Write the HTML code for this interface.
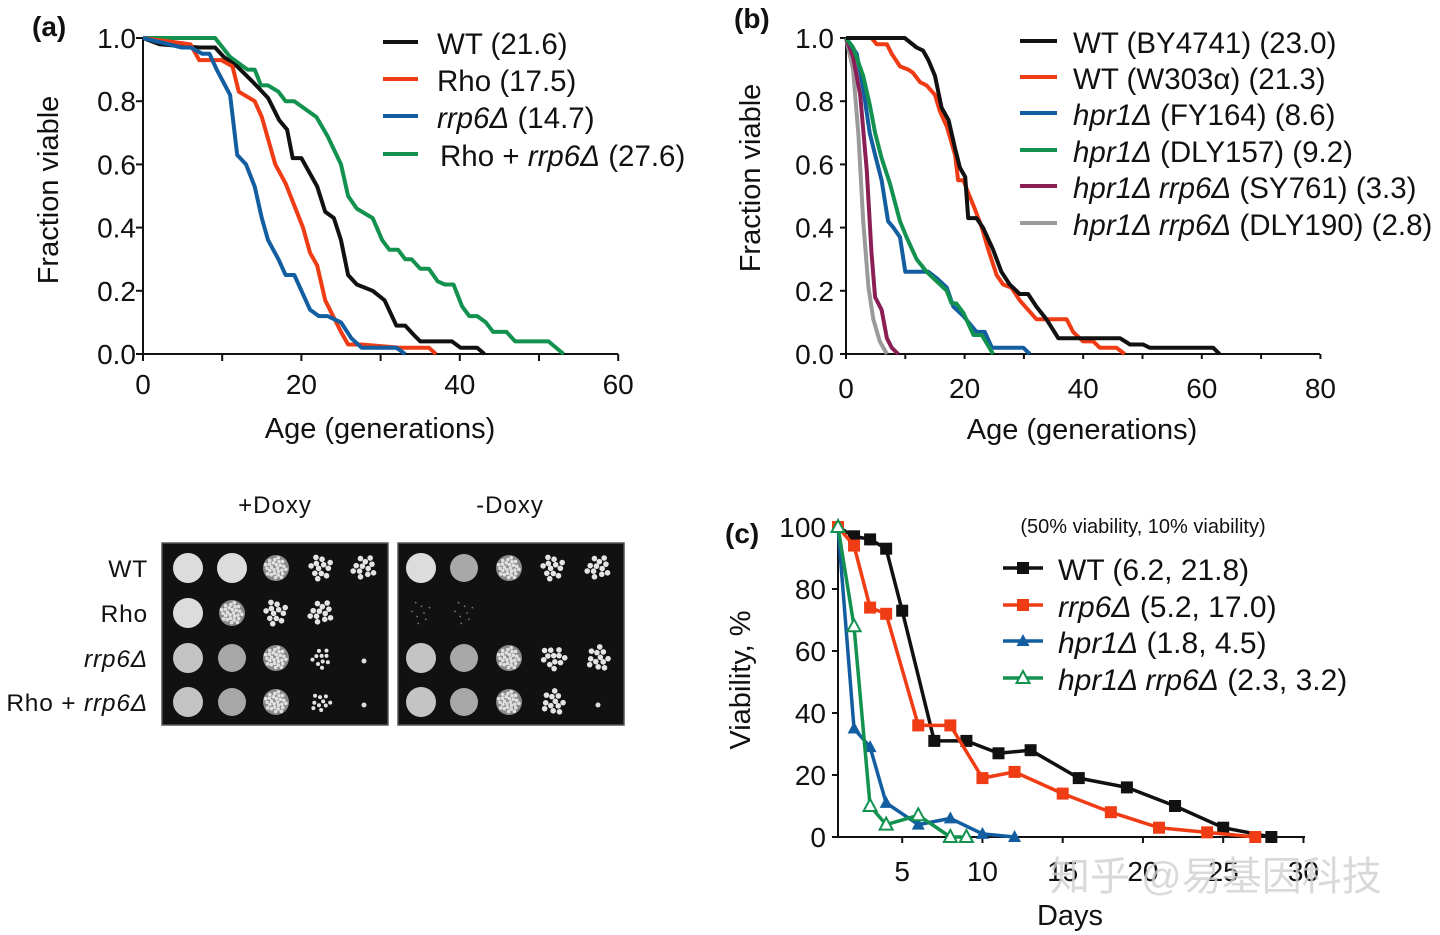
<!DOCTYPE html>
<html><head><meta charset="utf-8">
<style>
html,body{margin:0;padding:0;background:#fff;}
svg{display:block;font-family:"Liberation Sans","Noto Sans CJK SC",sans-serif;}
</style></head>
<body>
<svg id="fig" width="1440" height="935" viewBox="0 0 1440 935" xmlns="http://www.w3.org/2000/svg">
<g id="pa"></g>
<g id="pb"></g>
<g id="pc"></g>
<g id="plates"></g>
<text x="1050" y="890" font-size="40" fill="#d0d0d0" fill-opacity="0.8">知乎 @易基因科技</text>
</svg>
<script>
// ---------- Panel (a) data ----------
const aWTx=[0,2.1,7.1,9.1,10.2,11.9,13.9,15.8,17.2,18.2,18.9,20.0,22.0,23.0,24.1,25.0,25.9,27.0,29.0,30.5,32.0,33.1,34.2,35.0,39.0,40.1,42.2,43.1];
const aWTy=[1,0.98,0.97,0.97,0.94,0.91,0.86,0.81,0.74,0.71,0.62,0.62,0.53,0.45,0.43,0.36,0.25,0.22,0.20,0.17,0.09,0.09,0.06,0.04,0.04,0.02,0.02,0];
const aRhox=[0,6.0,7.1,9.9,11.3,12.1,14.1,15.0,15.8,16.7,18.0,19.1,20.2,21.1,22.0,23.0,25.0,25.9,27.6,32.4,36.1,37.0];
const aRhoy=[1,0.98,0.93,0.93,0.91,0.83,0.80,0.75,0.68,0.60,0.54,0.47,0.40,0.32,0.28,0.17,0.07,0.03,0.03,0.02,0.02,0];
const aRrpx=[0,4.9,6.0,7.5,8.4,9.3,11.0,11.9,13.0,14.1,15.0,15.8,17.1,18.0,19.1,21.1,22.2,23.3,25.0,26.3,27.6,32.0,33.1];
const aRrpy=[1,0.97,0.97,0.95,0.95,0.90,0.82,0.63,0.60,0.53,0.43,0.36,0.30,0.25,0.25,0.14,0.12,0.12,0.10,0.05,0.02,0.02,0];
const aRRx=[0,9.1,11.0,13.2,14.1,14.9,15.8,17.1,18.0,19.1,21.9,23.3,25.0,25.9,27.0,29.0,30.2,31.1,32.2,33.1,33.9,35.0,36.1,37.2,38.1,39.2,40.3,41.2,42.2,43.3,44.2,45.9,47.0,51.2,53.1];
const aRRy=[1,1,0.94,0.90,0.90,0.85,0.85,0.83,0.80,0.80,0.75,0.69,0.60,0.50,0.46,0.43,0.36,0.33,0.33,0.30,0.30,0.27,0.27,0.23,0.22,0.22,0.15,0.12,0.12,0.10,0.07,0.07,0.04,0.04,0];
const aXTicks=[0,20,40,60];
const aYTicks=[0,0.2,0.4,0.6,0.8,1.0];

// ---------- Panel (b) data ----------
const bBYx=[0,9.9,11.9,13.0,13.9,15.0,16.1,17.3,18.4,19.2,20.1,20.6,22.0,23.1,24.8,26.2,27.6,29.3,30.7,32.1,33.8,35.8,46.2,47.9,50.1,51.2,61.9,63.0];
const bBYy=[1,1,0.97,0.96,0.93,0.88,0.78,0.74,0.65,0.59,0.56,0.43,0.43,0.40,0.33,0.26,0.22,0.19,0.19,0.15,0.11,0.05,0.05,0.03,0.03,0.02,0.02,0];
const bW3x=[0,4.3,5.2,6.9,7.7,9.1,10.5,11.3,12.5,13.6,15.0,15.8,17.0,18.4,18.9,19.8,20.6,21.7,22.9,24.0,25.4,26.5,27.9,29.3,30.7,32.1,35.5,37.2,38.3,40.0,41.7,42.8,45.6,47.0];
const bW3y=[1,1,0.98,0.98,0.95,0.91,0.90,0.89,0.86,0.85,0.82,0.77,0.72,0.63,0.55,0.55,0.51,0.46,0.40,0.33,0.25,0.22,0.21,0.17,0.14,0.11,0.11,0.11,0.07,0.04,0.04,0.02,0.02,0];
const bFYx=[0,1.8,2.9,4.0,4.9,6.0,7.1,8.0,9.1,10.0,13.9,15.3,17.0,18.1,19.8,22.0,23.4,24.6,29.9,31.0];
const bFYy=[1,0.95,0.84,0.70,0.63,0.55,0.42,0.40,0.37,0.26,0.26,0.24,0.21,0.15,0.12,0.07,0.07,0.02,0.02,0];
const bD157x=[0,1.2,2.9,4.0,4.9,6.0,7.4,9.1,10.2,11.9,13.6,15.3,17.0,17.8,18.6,19.8,21.5,22.9,24.8];
const bD157y=[1,0.97,0.88,0.79,0.70,0.62,0.54,0.42,0.37,0.30,0.26,0.23,0.20,0.16,0.16,0.13,0.06,0.06,0];
const bSYx=[0,1.2,2.4,3.5,4.3,4.9,6.0,6.9,7.7,8.8];
const bSYy=[1,0.94,0.82,0.58,0.32,0.18,0.14,0.05,0.02,0];
const bD190x=[0,1.2,2.1,2.9,3.8,4.6,5.7,6.9];
const bD190y=[1,0.90,0.69,0.42,0.21,0.11,0.04,0];
const bXTicks=[0,20,40,60,80];
const bYTicks=[0,0.2,0.4,0.6,0.8,1.0];

// ---------- Panel (c) data ----------
const cWTd=[1,2,3,4,5,7,9,11,13,16,19,22,25,28];
const cWTv=[100,97,96,93,73,31,31,27,28,19,16,10,3,0];
const cRrpd=[1,2,3,4,6,8,10,12,15,18,21,24,27];
const cRrpv=[100,94,74,72,36,36,19,21,14,8,3,1.5,0];
const cHprd=[1,2,3,4,6,8,10,12];
const cHprv=[100,35,29,11,4,6,1,0];
const cDbld=[1,2,3,4,6,8,9];
const cDblv=[100,68,10,4,7,0,0];
const cXTicks=[5,10,15,20,25,30];
const cYTicks=[0,20,40,60,80,100];

const NS="http://www.w3.org/2000/svg";
const TF=28, LF=29.5, AF=29;
function mk(parent,tag,attrs,text){const e=document.createElementNS(NS,tag);for(const k in attrs)e.setAttribute(k,attrs[k]);if(text!==undefined)e.textContent=text;parent.appendChild(e);return e;}
function poly(g,xs,ys,sx,sy,color,name){
  const p=xs.map((x,i)=>sx(x).toFixed(1)+","+sy(ys[i]).toFixed(1)).join(" ");
  const e=mk(g,"polyline",{points:p,fill:"none",stroke:color,"stroke-width":4,"stroke-linejoin":"round"});
  
  
  return e;
}
function richLabel(g,x,y,size,parts,name){
  const t=mk(g,"text",{x:x,y:y,"font-size":size,fill:"#111"});
  parts.forEach(p=>{mk(t,"tspan",p[1]?{"font-style":"italic"}:{},p[0]);});
  
  
  return t;
}

// ----- Panel a -----
(function(){
  const g=document.getElementById("pa");
  const sx=v=>143+v*7.92, sy=v=>354-v*316;
  mk(g,"line",{x1:143,y1:354,x2:618,y2:354,stroke:"#111","stroke-width":2});
  mk(g,"line",{x1:143,y1:38,x2:143,y2:354,stroke:"#111","stroke-width":2});
  for(let v=0;v<=60;v+=10)mk(g,"line",{x1:sx(v),y1:354,x2:sx(v),y2:361,stroke:"#111","stroke-width":2});
  aXTicks.forEach(v=>{const t=mk(g,"text",{x:sx(v),y:394,"font-size":TF,"text-anchor":"middle",fill:"#111"},String(v));
    
    });
  aYTicks.forEach(v=>{mk(g,"line",{x1:136,y1:sy(v),x2:143,y2:sy(v),stroke:"#111","stroke-width":2});
    const t=mk(g,"text",{x:136,y:sy(v)+10,"font-size":TF,"text-anchor":"end",fill:"#111"},v.toFixed(1));
    
    });
  const yt=mk(g,"text",{x:0,y:0,"font-size":AF,"text-anchor":"middle",transform:"translate(58,190) rotate(-90)",fill:"#111"},"Fraction viable");
  
  
  const xt=mk(g,"text",{x:380,y:438,"font-size":AF,"text-anchor":"middle",fill:"#111"},"Age (generations)");
  
  
  const pl=mk(g,"text",{x:32,y:36,"font-size":28,"font-weight":"bold",fill:"#111"},"(a)");
  
  
  poly(g,aRRx,aRRy,sx,sy,"#13924f","series-rho-rrp6");
  poly(g,aWTx,aWTy,sx,sy,"#111","series-wt");
  poly(g,aRhox,aRhoy,sx,sy,"#f03c14","series-rho");
  poly(g,aRrpx,aRrpy,sx,sy,"#125ea0","series-rrp6");
  const cols=["#111","#f03c14","#125ea0","#13924f"], ys=[44,81,118,156];
  const parts=[[["WT (21.6)"]],[["Rho (17.5)"]],[["rrp6Δ",1],[" (14.7)"]],[["Rho + "],["rrp6Δ",1],[" (27.6)"]]];
  ys.forEach((y,i)=>{const l=mk(g,"line",{x1:383,y1:y-2,x2:418,y2:y-2,stroke:cols[i],"stroke-width":4});
    
    
    richLabel(g,i==3?440:437,y+10,LF,parts[i],"legend-entry");});
})();

// ----- Panel b -----
(function(){
  const g=document.getElementById("pb");
  const sx=v=>846+v*5.93, sy=v=>354-v*316;
  mk(g,"line",{x1:846,y1:354,x2:1320,y2:354,stroke:"#111","stroke-width":2});
  mk(g,"line",{x1:846,y1:38,x2:846,y2:354,stroke:"#111","stroke-width":2});
  for(let v=0;v<=80;v+=10)mk(g,"line",{x1:sx(v),y1:354,x2:sx(v),y2:359,stroke:"#111","stroke-width":2});
  bXTicks.forEach(v=>{const t=mk(g,"text",{x:sx(v),y:398,"font-size":TF,"text-anchor":"middle",fill:"#111"},String(v));
    
    });
  bYTicks.forEach(v=>{mk(g,"line",{x1:840,y1:sy(v),x2:846,y2:sy(v),stroke:"#111","stroke-width":2});
    const t=mk(g,"text",{x:834,y:sy(v)+10,"font-size":TF,"text-anchor":"end",fill:"#111"},v.toFixed(1));
    
    });
  const yt=mk(g,"text",{x:0,y:0,"font-size":AF,"text-anchor":"middle",transform:"translate(760,178) rotate(-90)",fill:"#111"},"Fraction viable");
  
  
  const xt=mk(g,"text",{x:1082,y:439,"font-size":AF,"text-anchor":"middle",fill:"#111"},"Age (generations)");
  
  
  const pl=mk(g,"text",{x:734,y:28,"font-size":28,"font-weight":"bold",fill:"#111"},"(b)");
  
  
  poly(g,bD190x,bD190y,sx,sy,"#9a9a9a","series-dly190");
  poly(g,bSYx,bSYy,sx,sy,"#8b1f55","series-sy761");
  poly(g,bFYx,bFYy,sx,sy,"#125ea0","series-fy164");
  poly(g,bD157x,bD157y,sx,sy,"#13924f","series-dly157");
  poly(g,bW3x,bW3y,sx,sy,"#f03c14","series-w303");
  poly(g,bBYx,bBYy,sx,sy,"#111","series-by4741");
  const cols=["#111","#f03c14","#125ea0","#13924f","#8b1f55","#9a9a9a"], ys=[43,79,115,152,188,225];
  const parts=[[["WT (BY4741) (23.0)"]],[["WT (W303α) (21.3)"]],[["hpr1Δ",1],[" (FY164) (8.6)"]],[["hpr1Δ",1],[" (DLY157) (9.2)"]],[["hpr1Δ rrp6Δ",1],[" (SY761) (3.3)"]],[["hpr1Δ rrp6Δ",1],[" (DLY190) (2.8)"]]];
  ys.forEach((y,i)=>{const l=mk(g,"line",{x1:1020,y1:y-2,x2:1057,y2:y-2,stroke:cols[i],"stroke-width":4});
    
    
    richLabel(g,1073,y+10,LF,parts[i],"legend-entry");});
})();

// ----- Panel c -----
(function(){
  const g=document.getElementById("pc");
  const sx=d=>838+(d-1)*16.05, sy=v=>837-v*3.1;
  mk(g,"line",{x1:838,y1:837,x2:1305,y2:837,stroke:"#111","stroke-width":2});
  mk(g,"line",{x1:838,y1:527,x2:838,y2:837,stroke:"#111","stroke-width":2});
  for(let d=5;d<=30;d+=5)mk(g,"line",{x1:sx(d),y1:837,x2:sx(d),y2:843,stroke:"#111","stroke-width":2});
  cXTicks.forEach(v=>{const t=mk(g,"text",{x:sx(v),y:881,"font-size":TF,"text-anchor":"middle",fill:"#111"},String(v));
    
    });
  cYTicks.forEach(v=>{mk(g,"line",{x1:832,y1:sy(v),x2:838,y2:sy(v),stroke:"#111","stroke-width":2});
    const t=mk(g,"text",{x:826,y:sy(v)+10,"font-size":TF,"text-anchor":"end",fill:"#111"},String(v));
    
    });
  const yt=mk(g,"text",{x:0,y:0,"font-size":AF,"text-anchor":"middle",transform:"translate(750,680) rotate(-90)",fill:"#111"},"Viability, %");
  
  
  const xt=mk(g,"text",{x:1070,y:925,"font-size":AF,"text-anchor":"middle",fill:"#111"},"Days");
  
  
  const pl=mk(g,"text",{x:725,y:543,"font-size":28,"font-weight":"bold",fill:"#111"},"(c)");
  
  
  function marker(x,y,type,color){
    let e;
    if(type=="sq") e=mk(g,"rect",{x:x-6,y:y-6,width:12,height:12,fill:color});
    else if(type=="tri") e=mk(g,"polygon",{points:`${x},${y-7} ${x-6.5},${y+5} ${x+6.5},${y+5}`,fill:color});
    else e=mk(g,"polygon",{points:`${x},${y-7} ${x-6.5},${y+5} ${x+6.5},${y+5}`,fill:"#fff",stroke:color,"stroke-width":2});
    return e;
  }
  function series(ds,vs,color,type,name){
    const p=ds.map((d,i)=>sx(d).toFixed(1)+","+sy(vs[i]).toFixed(1)).join(" ");
    const e=mk(g,"polyline",{points:p,fill:"none",stroke:color,"stroke-width":3.5,"stroke-linejoin":"round"});
    
    
    ds.forEach((d,i)=>{const m=marker(sx(d),sy(vs[i]),type,color);
      
      });
  }
  series(cWTd,cWTv,"#111","sq","series-wt");
  series(cRrpd,cRrpv,"#f03c14","sq","series-rrp6");
  series(cHprd,cHprv,"#125ea0","tri","series-hpr1");
  series(cDbld,cDblv,"#13924f","otri","series-hpr1-rrp6");
  const hd=mk(g,"text",{x:1143,y:533,"font-size":20,"text-anchor":"middle",fill:"#111"},"(50% viability, 10% viability)");
  
  
  const cols=["#111","#f03c14","#125ea0","#13924f"], types=["sq","sq","tri","otri"], ys=[570,607,643,680];
  const parts=[[["WT (6.2, 21.8)"]],[["rrp6Δ",1],[" (5.2, 17.0)"]],[["hpr1Δ",1],[" (1.8, 4.5)"]],[["hpr1Δ rrp6Δ",1],[" (2.3, 3.2)"]]];
  ys.forEach((y,i)=>{const l=mk(g,"line",{x1:1003,y1:y-2,x2:1043,y2:y-2,stroke:cols[i],"stroke-width":3.5});
    
    
    marker(1023,y-2,types[i],cols[i]);
    richLabel(g,1058,y+10,LF+0.5,parts[i],"legend-entry");});
})();

// ----- Plates -----
(function(){
  const g=document.getElementById("plates");
  const t1=mk(g,"text",{x:275,y:513,"font-size":24,"text-anchor":"middle",fill:"#111","letter-spacing":"1"},"+Doxy");
  
  
  const t2=mk(g,"text",{x:510,y:513,"font-size":24,"text-anchor":"middle",fill:"#111","letter-spacing":"1"},"-Doxy");
  
  
  const rowY=[568,613,658,702];
  const rowParts=[[["WT"]],[["Rho"]],[["rrp6Δ",1]],[["Rho + "],["rrp6Δ",1]]];
  rowY.forEach((y,i)=>{const t=mk(g,"text",{x:148,y:y+9,"font-size":24.5,"text-anchor":"end",fill:"#111","letter-spacing":"0.8"});
    rowParts[i].forEach(p=>mk(t,"tspan",p[1]?{"font-style":"italic"}:{},p[0]));
    
    });
  const plates=[[162,[188,232,276,321,364]],[398,[421,464,509,553,598]]];
  const spots=[
    [["F","F","G","C","C"],["F","G","C","C","e"],["M","D","G","c","d"],["M","D","G","c","d"]],
    [["F","D","G","C","C"],["f","f","e","e","e"],["M","D","G","C","C"],["M","D","G","C","d"]]
  ];
  plates.forEach((pl,pi)=>{
    const r=mk(g,"rect",{x:pl[0],y:543,width:226,height:182,fill:"#111",stroke:"#555","stroke-width":1.5});
    
    
    rowY.forEach((y,ri)=>pl[1].forEach((x,ci)=>{
      const s=spots[pi][ri][ci];
      if(s=="F") mk(g,"circle",{cx:x,cy:y,r:15,fill:"#dcdcdc"});
      else if(s=="M") mk(g,"circle",{cx:x,cy:y,r:15,fill:"#c4c4c4"});
      else if(s=="D") mk(g,"circle",{cx:x,cy:y,r:14,fill:"#a8a8a8"});
      else if(s=="G"){mk(g,"circle",{cx:x,cy:y,r:13,fill:"#8a8a8a"});
        for(let a=0;a<26;a++){const ang=a*2.39996, rr=11*Math.sqrt((a+0.5)/26); mk(g,"circle",{cx:x+Math.cos(ang)*rr,cy:y+Math.sin(ang)*rr,r:1.8,fill:"#e0e0e0"});}}
      else if(s=="C"||s=="c"){const n=s=="C"?12:10, R=s=="C"?12:10;
        for(let a=0;a<n;a++){const ang=a*2.39996+ri+ci, rr=R*Math.sqrt((a+0.5)/n); mk(g,"circle",{cx:x+Math.cos(ang)*rr,cy:y+Math.sin(ang)*rr,r:s=="C"?2.8:2,fill:"#e4e4e4"});}}
      else if(s=="f"){for(let a=0;a<8;a++){const ang=a*2.39996, rr=12*Math.sqrt((a+0.5)/8); mk(g,"circle",{cx:x+Math.cos(ang)*rr,cy:y+Math.sin(ang)*rr,r:0.9,fill:"#777"});}}
      else if(s=="d") mk(g,"circle",{cx:x,cy:y+3,r:2.5,fill:"#ddd"});
    }));
  });
})();
</script>
</body></html>
